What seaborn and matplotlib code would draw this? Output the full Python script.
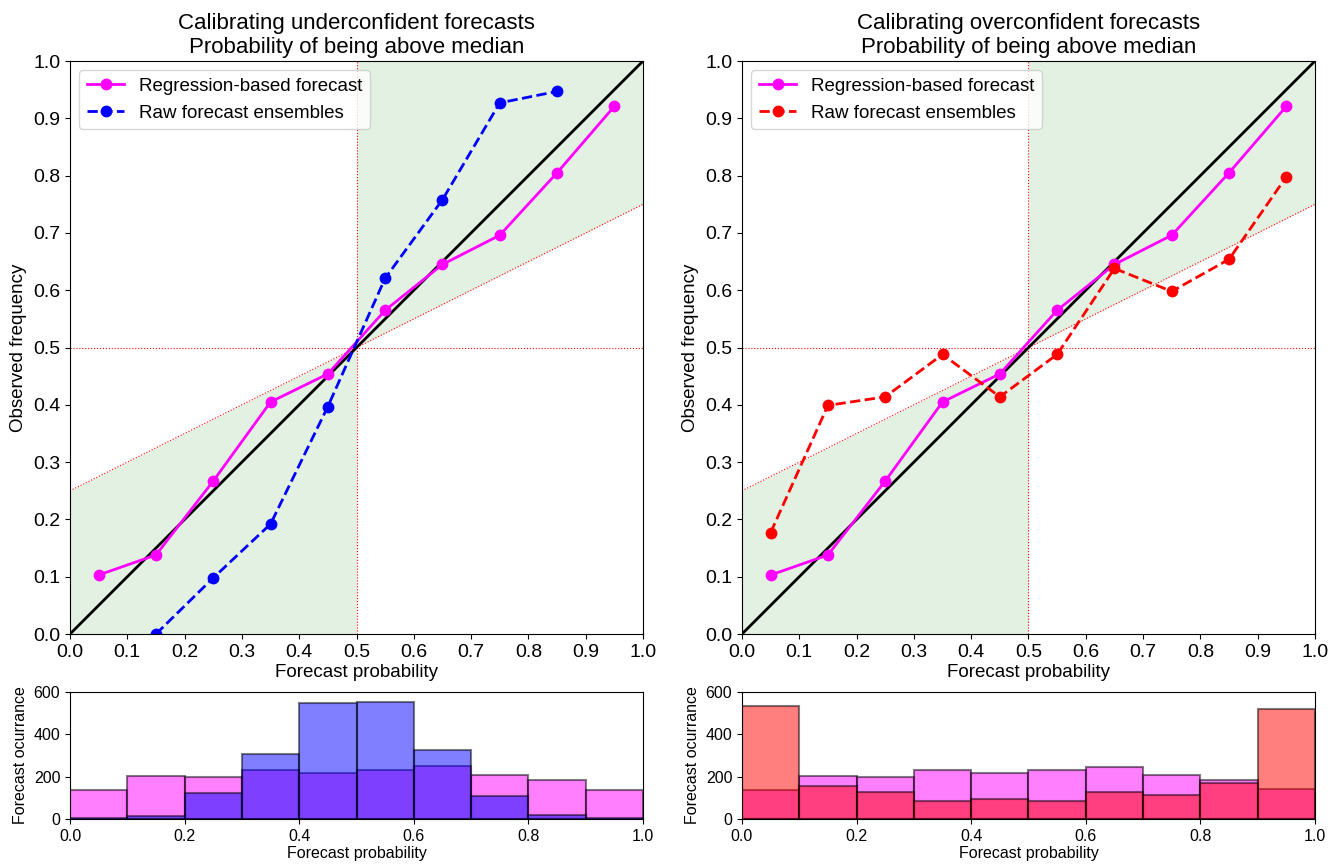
import numpy as np
import pandas as pd
import matplotlib
matplotlib.use('Agg')
import matplotlib.pyplot as plt
import seaborn as sns

# bin centres of the forecast probability
prob_bins = [0.05, 0.15, 0.25, 0.35, 0.45, 0.55, 0.65, 0.75, 0.85, 0.95]
hist_edges = [0.0, 0.1, 0.2, 0.3, 0.4, 0.5, 0.6, 0.7, 0.8, 0.9, 1.0]

# reliability curves (observed frequency per bin)
regression_freq = [0.103, 0.138, 0.267, 0.405, 0.454, 0.565, 0.645, 0.696, 0.805, 0.921]
under_raw_freq = [np.nan, 0.0, 0.098, 0.192, 0.397, 0.621, 0.758, 0.927, 0.947, np.nan]
over_raw_freq = [0.177, 0.399, 0.414, 0.488, 0.414, 0.488, 0.638, 0.598, 0.654, 0.798]

# forecast counts per bin
regression_counts_under = [135, 203, 200, 232, 215, 232, 248, 207, 185, 138]
regression_counts_over = [137, 203, 200, 232, 215, 232, 246, 206, 186, 140]
under_raw_counts = [3, 15, 122, 305, 548, 552, 327, 110, 20, 3]
over_raw_counts = [535, 155, 128, 85, 95, 83, 127, 112, 168, 518]

titles = ['Calibrating underconfident forecasts\nProbability of being above median',
          'Calibrating overconfident forecasts\nProbability of being above median']

plt.rcParams['font.family'] = ['Liberation Sans', 'DejaVu Sans']

fig = plt.figure(figsize=(13.41, 8.67), dpi=100)
main_axes = [fig.add_axes([0.0522, 0.2687, 0.4273, 0.6609]),
             fig.add_axes([0.5533, 0.2687, 0.4273, 0.6609])]
hist_axes = [fig.add_axes([0.0522, 0.0554, 0.4273, 0.1465]),
             fig.add_axes([0.5533, 0.0554, 0.4273, 0.1465])]

panels = [
    (under_raw_freq, 'blue', regression_counts_under, under_raw_counts),
    (over_raw_freq, 'red', regression_counts_over, over_raw_counts),
]

xs = np.linspace(0, 1, 101)
for i, (raw_freq, raw_color, reg_counts, raw_counts) in enumerate(panels):
    ax = main_axes[i]
    # skill region
    left = xs <= 0.5
    right = xs >= 0.5
    ax.fill_between(xs[left], 0, 0.25 + 0.5 * xs[left], color='g', alpha=0.11, linewidth=0)
    ax.fill_between(xs[right], 0.25 + 0.5 * xs[right], 1, color='g', alpha=0.11, linewidth=0)
    ax.plot([0, 1], [0.25, 0.75], 'r:', linewidth=0.8)
    ax.axhline(0.5, color='r', linestyle=':', linewidth=0.8)
    ax.axvline(0.5, color='r', linestyle=':', linewidth=0.8)
    ax.plot([0, 1], [0, 1], color='k', linewidth=2)

    df = pd.DataFrame({'prob': prob_bins, 'reg': regression_freq, 'raw': raw_freq})
    sns.lineplot(data=df, x='prob', y='reg', ax=ax, color='magenta', marker='o',
                 markersize=8.5, markeredgewidth=0, linewidth=2,
                 label='Regression-based forecast')
    sns.lineplot(data=df.dropna(), x='prob', y='raw', ax=ax, color=raw_color, marker='o',
                 markersize=8.5, markeredgewidth=0, linewidth=2, linestyle='--',
                 label='Raw forecast ensembles')

    ax.set_xlim(0, 1)
    ax.set_ylim(0, 1)
    ax.set_xticks(np.arange(0, 1.01, 0.1))
    ax.set_yticks(np.arange(0, 1.01, 0.1))
    ax.tick_params(labelsize=14)
    ax.set_xlabel('Forecast probability', fontsize=13.5, labelpad=2)
    ax.set_ylabel('Observed frequency', fontsize=13.5)
    ax.set_title(titles[i], fontsize=16, pad=6)
    ax.legend(loc='upper left', fontsize=13.5)

    hax = hist_axes[i]
    sns.histplot(x=prob_bins, weights=reg_counts, bins=hist_edges, ax=hax,
                 color='magenta', alpha=0.5, edgecolor=(0, 0, 0, 0.5), linewidth=1.5)
    sns.histplot(x=prob_bins, weights=raw_counts, bins=hist_edges, ax=hax,
                 color=raw_color, alpha=0.5, edgecolor=(0, 0, 0, 0.5), linewidth=1.5)
    hax.set_xlim(0, 1)
    hax.set_ylim(0, 600)
    hax.set_yticks([0, 200, 400, 600])
    hax.tick_params(labelsize=11.5)
    hax.set_xlabel('Forecast probability', fontsize=11.5, labelpad=2)
    hax.set_ylabel('Forecast ocurrance', fontsize=11.5)

fig.savefig('out.png', dpi=100)
